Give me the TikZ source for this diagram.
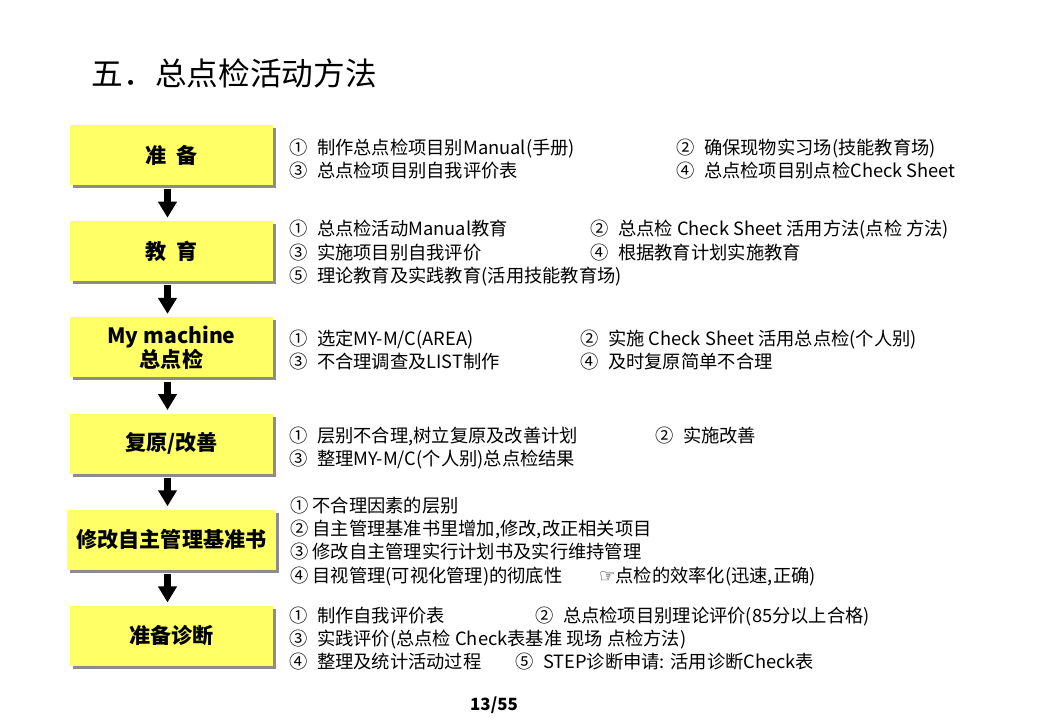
\documentclass[tikz,border=0pt]{standalone}
\usepackage{fontspec}
\setmainfont{Noto Sans CJK SC}
\newfontfamily\symfont{DejaVu Sans}
\usetikzlibrary{positioning}
\usetikzlibrary{arrows.meta}
\usetikzlibrary{shadows}
\definecolor{boxyellow}{RGB}{255,255,102}
\newcommand{\leftcol}[2]{\makebox[#1][l]{#2}}

\begin{document}
\begin{tikzpicture}[x=0.025cm,y=-0.025cm]
	\tikzset{stage/.style = {shape=rectangle, fill=boxyellow, minimum width=5.075cm, minimum height=1.5cm, inner sep=0pt, align=center, font=\fontsize{15}{17}\selectfont\bfseries, drop shadow={shadow xshift=0.075cm, shadow yshift=-0.075cm, fill=black!45, opacity=1}}}
	\tikzset{desc/.style = {inner sep=0pt, align=left, font=\fontsize{13}{16.5}\selectfont}}
	\tikzset{flow/.style = {-{Triangle[width=0.45cm,length=0.4cm]}, line width=0.15cm, shorten <=0.1cm, shorten >=0.08cm}}
	\useasboundingbox (0,0) rectangle (1040,720);
	
	\node[anchor=west, font=\fontsize{22.5}{26}\selectfont] (title) at (87,73) {五．总点检活动方法};
	
	\node[stage] (prep) at (171.5,155) {准\hspace{0.5em}备};
	\node[stage, below=0.89cm of prep] (edu) {教\hspace{0.5em}育};
	\node[stage, below=0.89cm of edu] (mymc) {My machine\\总点检};
	\node[stage, below=0.89cm of mymc] (fix) {复原/改善};
	\node[stage, below=0.89cm of fix, minimum width=5.2cm] (std) {修改自主管理基准书};
	\node[stage, below=0.89cm of std] (diag) {准备诊断};
	
	\draw[flow] ([xshift=-0.1cm]prep.south) -- ([xshift=-0.1cm]edu.north);
	\draw[flow] ([xshift=-0.1cm]edu.south) -- ([xshift=-0.1cm]mymc.north);
	\draw[flow] ([xshift=-0.1cm]mymc.south) -- ([xshift=-0.1cm]fix.north);
	\draw[flow] ([xshift=-0.1cm]fix.south) -- ([xshift=-0.1cm]std.north);
	\draw[flow] ([xshift=-0.1cm]std.south) -- ([xshift=-0.1cm]diag.north);
	
	\node[desc, right=0.4cm of prep, yshift=-0.1cm] (prepdesc)
	{ \leftcol{9.675cm}{①\enspace 制作总点检项目别Manual(手册)}②\enspace 确保现物实习场(技能教育场) \\
		\leftcol{9.675cm}{③\enspace 总点检项目别自我评价表}④\enspace 总点检项目别点检Check Sheet
	};
	\node[desc, right=0.4cm of edu, yshift=-0.05cm] (edudesc)
	{ \leftcol{7.525cm}{①\enspace 总点检活动Manual教育}②\enspace 总点检 Check Sheet 活用方法(点检 方法) \\
		\leftcol{7.525cm}{③\enspace 实施项目别自我评价}④\enspace 根据教育计划实施教育 \\
		⑤\enspace 理论教育及实践教育(活用技能教育场)
	};
	\node[desc, right=0.4cm of mymc, yshift=-0.07cm] (mymcdesc)
	{ \leftcol{7.275cm}{①\enspace 选定MY-M/C(AREA)}②\enspace 实施 Check Sheet 活用总点检(个人别) \\
		\leftcol{7.275cm}{③\enspace 不合理调查及LIST制作}④\enspace 及时复原简单不合理
	};
	\node[desc, right=0.4cm of fix, yshift=-0.12cm] (fixdesc)
	{ \leftcol{9.15cm}{①\enspace 层别不合理,树立复原及改善计划}②\enspace 实施改善 \\
		③\enspace 整理MY-M/C(个人别)总点检结果
	};
	\node[desc, right=0.35cm of std, yshift=-0.04cm] (stddesc)
	{ ① 不合理因素的层别 \\
		② 自主管理基准书里增加,修改,改正相关项目 \\
		③ 修改自主管理实行计划书及实行维持管理 \\
		\leftcol{7.725cm}{④ 目视管理(可视化管理)的彻底性}{\symfont ☞}点检的效率化(迅速,正确)
	};
	\node[desc, right=0.4cm of diag, yshift=-0.06cm] (diagdesc)
	{ \leftcol{6.15cm}{①\enspace 制作自我评价表}②\enspace 总点检项目别理论评价(85分以上合格) \\
		③\enspace 实践评价(总点检 Check表基准 现场 点检方法) \\
		\leftcol{5.65cm}{④\enspace 整理及统计活动过程}⑤\enspace STEP诊断申请: 活用诊断Check表
	};
	
	\node[font=\fontsize{12}{14}\selectfont\bfseries] (page) at (494,705) {13/55};
\end{tikzpicture}
\end{document}
